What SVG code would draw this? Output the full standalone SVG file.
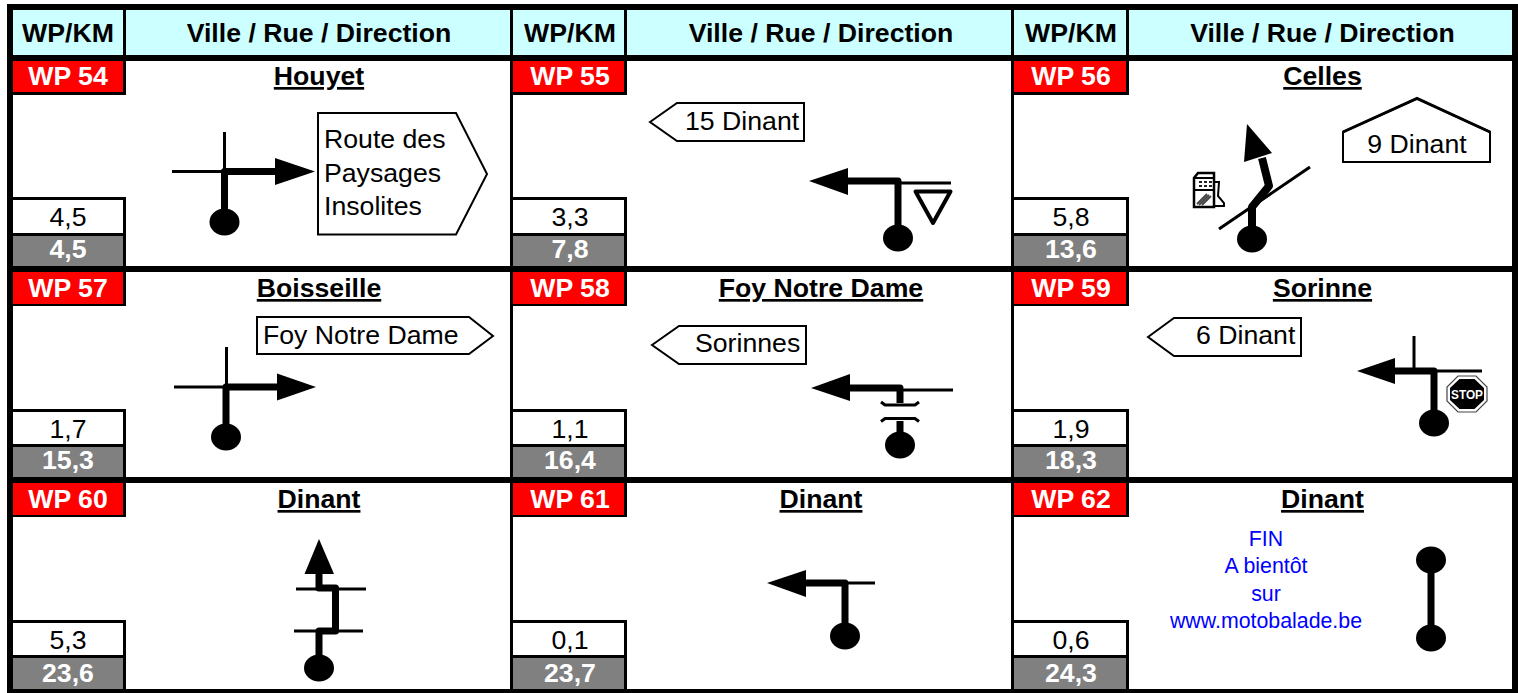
<svg xmlns="http://www.w3.org/2000/svg" width="1518" height="693" viewBox="0 0 1518 693">
<style>
text{font-family:"Liberation Sans",Arial,sans-serif;font-size:26.67px;fill:#000}
.c{text-anchor:middle}
.b{font-weight:700}
.u{font-weight:700;text-anchor:middle;text-decoration:underline}
.w{fill:#fff;font-weight:700;text-anchor:middle}
.blue{fill:#00f;font-size:21.33px;text-anchor:middle}
.head{fill:#cff}.red{fill:#f00}.gray{fill:#808080}.wh{fill:#fff}.k{fill:#000}
.sign{fill:#fff;stroke:#000;stroke-width:2;stroke-linejoin:miter}
.thick{fill:none;stroke:#000;stroke-width:7;stroke-linejoin:round}
.thin{fill:none;stroke:#000;stroke-width:3}
</style>
<rect class="k" x="7" y="4" width="1511" height="689"/>
<g id="header">
<rect class="head" x="13" y="10" width="110" height="45"/><rect class="head" x="126" y="10" width="384" height="45"/>
<rect class="head" x="513" y="10" width="111" height="45"/><rect class="head" x="627" y="10" width="384" height="45"/>
<rect class="head" x="1014" y="10" width="112" height="45"/><rect class="head" x="1129" y="10" width="383" height="45"/>
<text class="c b" x="68" y="42">WP/KM</text><text class="c b" x="319" y="42">Ville / Rue / Direction</text>
<text class="c b" x="570" y="42">WP/KM</text><text class="c b" x="821" y="42">Ville / Rue / Direction</text>
<text class="c b" x="1071" y="42">WP/KM</text><text class="c b" x="1322.500" y="42">Ville / Rue / Direction</text>
</g>

<g id="wp54">
<rect class="wh" x="13" y="61" width="497" height="205"/>
<rect class="k" x="13" y="61" width="113" height="34"/><rect class="red" x="13" y="61" width="110" height="31"/>
<rect class="k" x="13" y="197" width="113" height="69"/><rect class="wh" x="13" y="200" width="110" height="33"/><rect class="gray" x="13" y="236" width="110" height="30"/>
<text class="w" x="68" y="85">WP 54</text><text class="c" x="68" y="226">4,5</text><text class="w" x="68" y="258">4,5</text>
<text class="u" x="319" y="85">Houyet</text>
<polygon class="sign" points="318,113 456,113 487,174 456,234.500 318,234.500"/>
<text x="324" y="148">Route des</text><text x="324" y="182">Paysages</text><text x="324" y="215">Insolites</text>
</g>
<g id="wp55">
<rect class="wh" x="513" y="61" width="498" height="205"/>
<rect class="k" x="513" y="61" width="114" height="34"/><rect class="red" x="513" y="61" width="111" height="31"/>
<rect class="k" x="513" y="197" width="114" height="69"/><rect class="wh" x="513" y="200" width="111" height="33"/><rect class="gray" x="513" y="236" width="111" height="30"/>
<text class="w" x="570" y="85">WP 55</text><text class="c" x="570" y="226">3,3</text><text class="w" x="570" y="258">7,8</text>
<polygon class="sign" points="650,122 677,103 804,103 804,141 677,141"/>
<text x="685" y="130">15 Dinant</text>
<polygon points="915.500,191.500 950.500,191.500 933,223" fill="#fff" stroke="#000" stroke-width="4" stroke-linejoin="round"/>
</g>
<g id="wp56">
<rect class="wh" x="1014" y="61" width="498" height="205"/>
<rect class="k" x="1014" y="61" width="115" height="34"/><rect class="red" x="1014" y="61" width="112" height="31"/>
<rect class="k" x="1014" y="197" width="115" height="69"/><rect class="wh" x="1014" y="200" width="112" height="33"/><rect class="gray" x="1014" y="236" width="112" height="30"/>
<text class="w" x="1071" y="85">WP 56</text><text class="c" x="1071" y="226">5,8</text><text class="w" x="1071" y="258">13,6</text>
<text class="u" x="1322.500" y="85">Celles</text>
<polygon points="1343,132 1417,98.500 1490,132 1490,162 1343,162" fill="#fff" stroke="#000" stroke-width="2"/>
<path d="M1343,132 L1417,98.500 L1490,132" fill="none" stroke="#000" stroke-width="3"/>
<text class="c" x="1417" y="153">9 Dinant</text>
<g id="pump">
<path d="M1194,207 V178 L1198,173 H1214 V207 Z" fill="#fff" stroke="#000" stroke-width="2.500"/>
<path d="M1194,178 H1214 M1194,190 H1214" stroke="#000" stroke-width="2" fill="none"/>
<path d="M1199,182 h3 M1204,182 h3 M1209,182 h3 M1199,186 h3 M1204,186 h3 M1209,186 h3" stroke="#222" stroke-width="1.800" fill="none"/>
<path d="M1197,204 L1207,194 M1199,205 L1209,195 M1202,205 L1211,196" stroke="#444" stroke-width="1.800" fill="none"/>
<path d="M1215,182 H1219 L1218,196 L1224,203 L1224,206 H1215" fill="none" stroke="#000" stroke-width="2"/>
</g>
</g>

<g id="wp57">
<rect class="wh" x="13" y="272" width="497" height="205"/>
<rect class="k" x="13" y="272" width="113" height="34"/><rect class="red" x="13" y="272" width="110" height="32"/>
<rect class="k" x="13" y="409" width="113" height="68"/><rect class="wh" x="13" y="412" width="110" height="32"/><rect class="gray" x="13" y="447" width="110" height="30"/>
<text class="w" x="68" y="297">WP 57</text><text class="c" x="68" y="438">1,7</text><text class="w" x="68" y="469">15,3</text>
<text class="u" x="319" y="297">Boisseille</text>
<polygon class="sign" points="257,317 469,317 493,336 469,354 257,354"/>
<text x="263" y="344">Foy Notre Dame</text>
</g>
<g id="wp58">
<rect class="wh" x="513" y="272" width="498" height="205"/>
<rect class="k" x="513" y="272" width="114" height="34"/><rect class="red" x="513" y="272" width="111" height="32"/>
<rect class="k" x="513" y="409" width="114" height="68"/><rect class="wh" x="513" y="412" width="111" height="32"/><rect class="gray" x="513" y="447" width="111" height="30"/>
<text class="w" x="570" y="297">WP 58</text><text class="c" x="570" y="438">1,1</text><text class="w" x="570" y="469">16,4</text>
<text class="u" x="821" y="297">Foy Notre Dame</text>
<polygon class="sign" points="652,345 679,326 806,326 806,364 679,364"/>
<text x="695" y="352">Sorinnes</text>
</g>
<g id="wp59">
<rect class="wh" x="1014" y="272" width="498" height="205"/>
<rect class="k" x="1014" y="272" width="115" height="34"/><rect class="red" x="1014" y="272" width="112" height="32"/>
<rect class="k" x="1014" y="409" width="115" height="68"/><rect class="wh" x="1014" y="412" width="112" height="32"/><rect class="gray" x="1014" y="447" width="112" height="30"/>
<text class="w" x="1071" y="297">WP 59</text><text class="c" x="1071" y="438">1,9</text><text class="w" x="1071" y="469">18,3</text>
<text class="u" x="1322.500" y="297">Sorinne</text>
<polygon class="sign" points="1148,337 1174,318 1301,318 1301,356 1174,356"/>
<text x="1196" y="344">6 Dinant</text>
<g id="stop-sign">
<polygon points="1458,376 1476,376 1487,387 1487,401 1476,412 1458,412 1447,401 1447,387" fill="#fff" stroke="#444" stroke-width="1.200"/>
<polygon points="1459.500,379 1474.500,379 1484,388 1484,400 1474.500,409 1459.500,409 1450,400 1450,388" fill="#000"/>
<text x="1467" y="398.500" class="w" style="font-size:13.500px" textLength="32" lengthAdjust="spacingAndGlyphs">STOP</text>
</g>
</g>

<g id="wp60">
<rect class="wh" x="13" y="483" width="497" height="206"/>
<rect class="k" x="13" y="483" width="113" height="34"/><rect class="red" x="13" y="483" width="110" height="32"/>
<rect class="k" x="13" y="620" width="113" height="69"/><rect class="wh" x="13" y="623" width="110" height="32"/><rect class="gray" x="13" y="658" width="110" height="31"/>
<text class="w" x="68" y="508">WP 60</text><text class="c" x="68" y="649">5,3</text><text class="w" x="68" y="682">23,6</text>
<text class="u" x="319" y="508">Dinant</text>
</g>
<g id="wp61">
<rect class="wh" x="513" y="483" width="498" height="206"/>
<rect class="k" x="513" y="483" width="114" height="34"/><rect class="red" x="513" y="483" width="111" height="32"/>
<rect class="k" x="513" y="620" width="114" height="69"/><rect class="wh" x="513" y="623" width="111" height="32"/><rect class="gray" x="513" y="658" width="111" height="31"/>
<text class="w" x="570" y="508">WP 61</text><text class="c" x="570" y="649">0,1</text><text class="w" x="570" y="682">23,7</text>
<text class="u" x="821" y="508">Dinant</text>
</g>
<g id="wp62">
<rect class="wh" x="1014" y="483" width="498" height="206"/>
<rect class="k" x="1014" y="483" width="115" height="34"/><rect class="red" x="1014" y="483" width="112" height="32"/>
<rect class="k" x="1014" y="620" width="115" height="69"/><rect class="wh" x="1014" y="623" width="112" height="32"/><rect class="gray" x="1014" y="658" width="112" height="31"/>
<text class="w" x="1071" y="508">WP 62</text><text class="c" x="1071" y="649">0,6</text><text class="w" x="1071" y="682">24,3</text>
<text class="u" x="1322.500" y="508">Dinant</text>
<text class="blue" x="1266" y="546">FIN</text><text class="blue" x="1266" y="573">A bientôt</text><text class="blue" x="1266" y="601">sur</text><text class="blue" x="1266" y="628">www.motobalade.be</text>
</g>

<g id="connectors">
<g id="route54"><path class="thin" d="M172,171.500 H224.500 M224.500,132 V171.500"/><path class="thick" d="M224.500,222 V171.500 H278"/><polygon points="275,158 315,171.500 275,185"/><ellipse cx="224.500" cy="222" rx="15" ry="13.500"/></g>
<g id="route55"><path class="thin" d="M898,183 H951"/><path class="thick" d="M898,238 V181 H845"/><polygon points="848,168 809,181 848,195"/><ellipse cx="898" cy="238" rx="15" ry="13.500"/></g>
<g id="route56"><path class="thin" d="M1219,229 L1310,167"/><path class="thick" style="stroke-width:8" d="M1252,239 V207 L1269,186 L1262,158"/><polygon points="1247,124 1272,153 1244,162"/><ellipse cx="1252" cy="239" rx="15" ry="13.500"/></g>
<g id="route57"><path class="thin" d="M174,387 H226 M226.500,347 V387"/><path class="thick" d="M226,437 V387 H280"/><polygon points="277,373.500 316,387 277,400.500"/><ellipse cx="226" cy="437" rx="15" ry="13.500"/></g>
<g id="route58"><path class="thin" d="M900,390 H953"/><path class="thick" d="M900,403 V388 H847 M900,421 V445"/><polygon points="850,374 811,388 850,401"/><path d="M881,402 L885,405 H915 L919,402 M881,421.500 L885,418.500 H915 L919,421.500" fill="none" stroke="#000" stroke-width="3"/><ellipse cx="900" cy="445" rx="15" ry="13.500"/></g>
<g id="route59"><path class="thin" d="M1434,371 H1482 M1414,336 V371"/><path class="thick" d="M1434,423 V371 H1392"/><polygon points="1395,358 1357,371 1395,384"/><ellipse cx="1434" cy="423" rx="15" ry="13.500"/></g>
<g id="route60"><path class="thin" d="M296,589 H366 M294,631 H363"/><path class="thick" d="M319,668 V631 H335.500 V588 H319 V572"/><polygon points="319,539 334,574 304.500,574"/><ellipse cx="319" cy="668" rx="15" ry="13.500"/></g>
<g id="route61"><path class="thin" d="M845,583 H875"/><path class="thick" d="M845,636 V583 H803"/><polygon points="806,570 767,583 806,597"/><ellipse cx="845" cy="636" rx="15" ry="13.500"/></g>
<g id="route62"><path class="thick" d="M1431,560 V638"/><ellipse cx="1431" cy="560" rx="15" ry="13.500"/><ellipse cx="1431" cy="638" rx="15" ry="13.500"/></g>
</g>
</svg>
